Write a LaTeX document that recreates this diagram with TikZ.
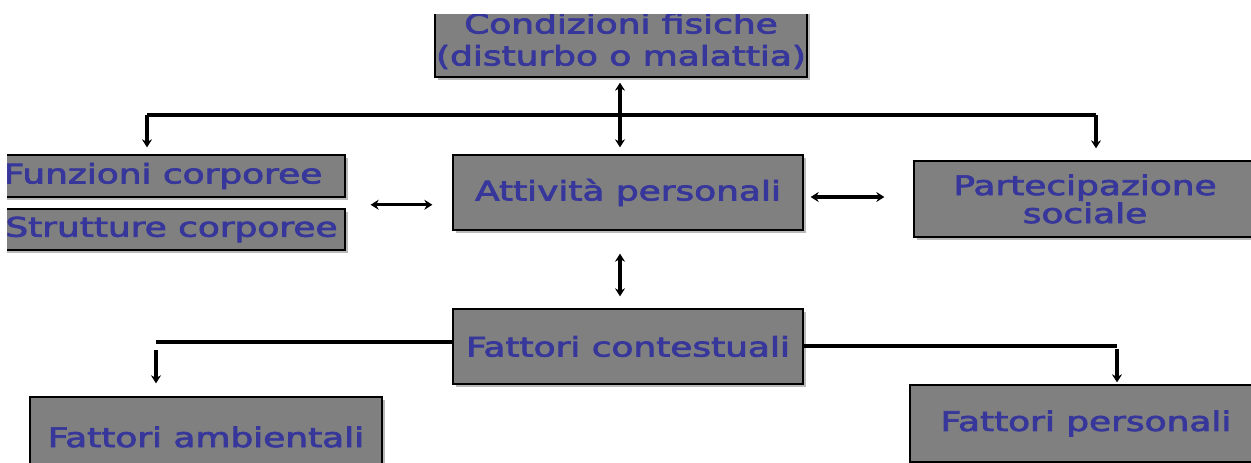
\documentclass[tikz,border=0pt]{standalone}
\usepackage{fontspec}
\setmainfont{DejaVu Sans}
\newfontfamily\boxfont[FakeBold=2.5]{DejaVu Sans}
\usetikzlibrary{arrows.meta,shadows,calc}
\definecolor{txtblue}{RGB}{55,55,155}
\definecolor{boxgray}{RGB}{128,128,128}
\definecolor{shadgray}{RGB}{185,185,185}
\newcommand{\widetxt}[1]{\scalebox{1.33}[1]{#1}}
\tikzset{
  boxnode/.style={draw=black, line width=1.3pt, fill=boxgray, text=txtblue,
    font=\boxfont\fontsize{27}{32}\selectfont, align=center, inner sep=0pt,
    drop shadow={shadow xshift=3pt, shadow yshift=-3pt, fill=shadgray, opacity=1}},
  conn/.style={line width=3.4pt, draw=black},
  tip/.style={line width=3.2pt, -{Stealth[length=8pt,width=10pt]}},
  dtip/.style={line width=3.2pt, {Stealth[length=8pt,width=10pt]}-{Stealth[length=8pt,width=10pt]}}
}
\begin{document}
\begin{tikzpicture}[x=1pt,y=-1pt]
\useasboundingbox (0,0) rectangle (1251,463);
\begin{scope}
\clip (7,14) rectangle (1251,463);
% boxes
\node[boxnode, minimum width=372pt, minimum height=72pt] (cond) at (621,41)
  {\widetxt{Condizioni fisiche}\\\widetxt{(disturbo o malattia)}};
\node[boxnode, minimum width=364pt, minimum height=42pt] (funz) at (163,176)
  {\widetxt{Funzioni corporee}};
\node[boxnode, minimum width=347pt, minimum height=41pt] (strut) at (171.5,229.5)
  {\widetxt{Strutture corporee}};
\node[boxnode, minimum width=350pt, minimum height=75pt] (attiv) at (628,192.5)
  {\widetxt{Attività personali}};
\node[boxnode, minimum width=342pt, minimum height=76pt] (part) at (1085,199)
  {\widetxt{Partecipazione}\\[-4pt]\widetxt{sociale}};
\node[boxnode, minimum width=350pt, minimum height=75pt] (fatt) at (628,346.5)
  {\widetxt{Fattori contestuali}};
\node[boxnode, minimum width=352pt, minimum height=80pt] (amb) at (206,437)
  {\widetxt{Fattori ambientali}};
\node[boxnode, minimum width=352pt, minimum height=77pt] (pers) at (1086,423.5)
  {\widetxt{Fattori personali}};

% top bar
\coordinate (bl) at (147,115);
\coordinate (br) at (1096,115);
\draw[conn] (bl) -- (br);
\draw[tip, shorten >=7pt] (bl) -- (bl |- funz.north);
\draw[tip, shorten >=12pt] (br) -- (br |- part.north);
\draw[dtip, shorten <=5pt, shorten >=7pt] ([xshift=-1pt]cond.south) -- ([xshift=-1pt]cond.south |- attiv.north);

% side arrows
\coordinate (fs) at ($(funz.east)!0.5!(strut.east)+(0,2)$);
\draw[dtip, shorten <=25pt, shorten >=20pt] (fs) -- (fs -| attiv.west);
\draw[dtip, shorten <=7pt, shorten >=29pt] ([yshift=-4.5pt]attiv.east) -- ([yshift=-4.5pt]attiv.east -| part.west);

% attiv <-> fatt
\draw[dtip, shorten <=23pt, shorten >=12pt] ([xshift=-8pt]attiv.south) -- ([xshift=-8pt]fatt.north);

% bottom branches
\coordinate (ll) at (156,342);
\coordinate (rr) at (1117,346);
\draw[conn] ([yshift=4.5pt]fatt.west) -- (ll);
\draw[conn] ([yshift=0.5pt]fatt.east) -- (rr);
\draw[tip, shorten <=8pt, shorten >=13pt] (ll) -- (ll |- amb.north);
\draw[tip, shorten <=3pt, shorten >=2pt] (rr) -- (rr |- pers.north);
\end{scope}
\end{tikzpicture}
\end{document}
